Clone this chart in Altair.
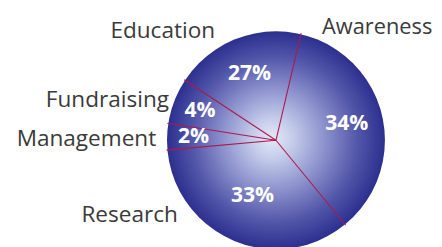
import altair as alt
import pandas as pd

# ---- data ----
categories = ["Awareness", "Research", "Management", "Fundraising", "Education"]
percent_labels = [34, 33, 2, 4, 27]
# slice sizes as actually drawn in the picture (% of the full circle)
drawn_share = [35.4, 34.5, 3.9, 6.8, 19.4]

# ---- layout / style ----
W, H = 434, 239
XS = (W - 426) / 2  # page recentres a chart wider than the window
CX, CY, R = 269 + XS, 132.5, 111
START_DEG = 13.2
pct_radius = [74, 62, 84, 83, 73]
cat_label_x = [316 + XS, 169 + XS, 147 + XS, 160 + XS, 207 + XS]
cat_label_y = [24, 216, 138, 99, 28]
cat_label_align = ["left", "right", "right", "right", "right"]
LINE_COLOR = "#b0174c"
TEXT_COLOR = "#3a3a3a"
FONT = "Open Sans"

df = pd.DataFrame({
    "category": categories,
    "pct": percent_labels,
    "share": drawn_share,
    "pr": pct_radius,
    "lx": cat_label_x,
    "ly": cat_label_y,
    "align": cat_label_align,
    "order": list(range(len(categories))),
})

base = alt.Chart(df)

pie = base.transform_aggregate(total="sum(share)").mark_arc(
    radius=R,
    fill=alt.Gradient(
        gradient="radial",
        stops=[
            alt.GradientStop(color="#e3eaf7", offset=0),
            alt.GradientStop(color="#c6cdeb", offset=0.18),
            alt.GradientStop(color="#9096cf", offset=0.45),
            alt.GradientStop(color="#5458aa", offset=0.75),
            alt.GradientStop(color="#2c2f8e", offset=1),
        ],
        x1=0.48, y1=0.49, r1=0,
        x2=0.5, y2=0.5, r2=0.5,
    ),
).encode(
    theta=alt.Theta("total:Q"),
    x=alt.value(CX),
    y=alt.value(CY),
)

geo = base.transform_window(
    cum="sum(share)", sort=[alt.SortField("order")], frame=[None, 0]
).transform_calculate(
    a0=f"({START_DEG} + (datum.cum - datum.share) * 3.6) * PI / 180",
    am=f"({START_DEG} + (datum.cum - datum.share / 2) * 3.6) * PI / 180",
).transform_calculate(
    x0=f"{CX}",
    y0=f"{CY}",
    x1=f"{CX} + {R + 1} * sin(datum.a0)",
    y1=f"{CY} - {R + 1} * cos(datum.a0)",
    tx=f"{CX} + datum.pr * sin(datum.am)",
    ty=f"{CY} - datum.pr * cos(datum.am)",
    ptxt="datum.pct + '%'",
)

lines = geo.mark_rule(color=LINE_COLOR, strokeWidth=1.1).encode(
    x=alt.X("x0:Q", scale=None, axis=None),
    y=alt.Y("y0:Q", scale=None, axis=None),
    x2="x1:Q",
    y2="y1:Q",
)

pct_text = geo.mark_text(
    font=FONT, fontWeight="bold", fontSize=21.5, color="white",
    align="center", baseline="middle",
).encode(
    x=alt.X("tx:Q", scale=None, axis=None),
    y=alt.Y("ty:Q", scale=None, axis=None),
    text="ptxt:N",
)

def cat_layer(al, size):
    return base.transform_filter(alt.datum.align == al).mark_text(
        font=FONT, fontSize=size, color=TEXT_COLOR, align=al, baseline="alphabetic",
    ).encode(
        x=alt.X("lx:Q", scale=None, axis=None),
        y=alt.Y("ly:Q", scale=None, axis=None),
        text="category:N",
    )

chart = alt.layer(
    pie, lines, pct_text, cat_layer("left", 22.2), cat_layer("right", 23)
).properties(
    width=W, height=H, autosize=alt.AutoSizeParams(type="none"), padding=0,
    background="white",
).configure_view(stroke=None)

chart.save("out.html", embed_options={"renderer": "svg", "actions": False})
